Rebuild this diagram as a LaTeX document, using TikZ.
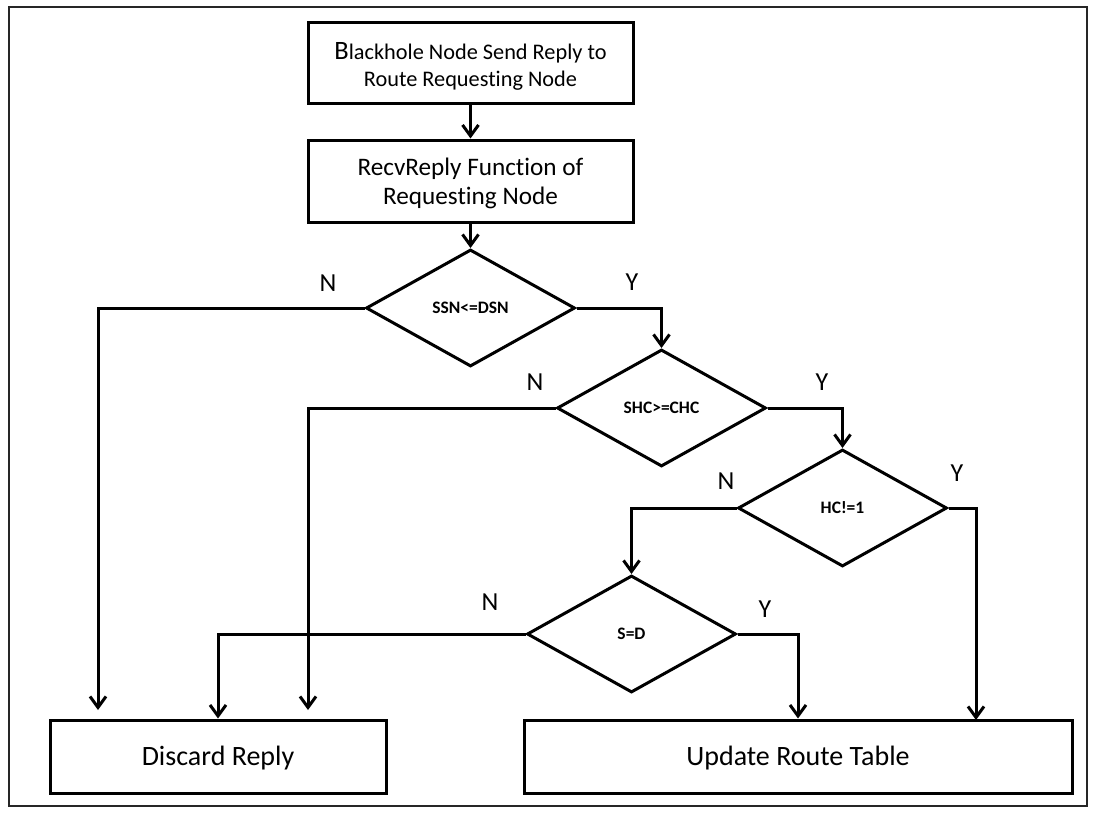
\documentclass[tikz,border=0pt]{standalone}
\usepackage{fontspec}
\setmainfont{Carlito}[Ligatures=NoCommon]
\usetikzlibrary{shapes.geometric,arrows.meta}
\begin{document}
\begin{tikzpicture}[x=1pt,y=-1pt,
  procbox/.style={draw,line width=3pt,rectangle,inner sep=0pt},
  boxtext/.style={align=center,inner sep=0pt},
  endbox/.style={draw,line width=3pt,rectangle,inner sep=0pt,minimum height=73pt},
  endtext/.style={inner sep=0pt,font=\fontsize{28}{33}\selectfont},
  decision/.style={draw,line width=3pt,diamond,minimum width=209pt,
    minimum height=117pt,inner sep=0pt,font=\fontsize{17.5}{20}\selectfont\bfseries},
  flow/.style={line width=3pt,-{Straight Barb[length=11pt,width=16pt]}},
  branch/.style={font=\fontsize{26}{30}\selectfont},
]
\useasboundingbox (0,0) rectangle (1096,816);
% outer frame
\draw[line width=1.5pt,black!85] (9,7) rectangle (1087,806);

% process boxes
\node[procbox,minimum width=325pt,minimum height=81pt] (start) at (470.5,63.5) {};
\node[boxtext,font=\fontsize{22.3}{27}\selectfont] (starttext) at ([yshift=-3pt]start.center)
  {{\fontsize{26.5}{27}\selectfont B}lackhole Node Send Reply to\\Route Requesting Node};
\node[procbox,minimum width=325pt,minimum height=82pt] (recv) at (470.5,181) {};
\node[boxtext,font=\fontsize{25.2}{29}\selectfont] (recvtext) at ([yshift=-2.5pt]recv.center)
  {RecvReply Function of\\Requesting Node};

% decisions
\node[decision] (d1) at (470.5,308) {SSN<=DSN};
\node[decision] (d2) at (661.5,408) {SHC>=CHC};
\node[decision] (d3) at (842.5,508) {HC!=1};
\node[decision] (d4) at (631.5,634) {S=D};

% outcomes
\node[endbox,minimum width=336pt] (discard) at (218,756.5) {};
\node[endtext] (discardtext) at ([yshift=-2pt]discard.center) {Discard Reply};
\node[endbox,minimum width=548pt] (update) at (798,756.5) {};
\node[endtext] (updatetext) at ([yshift=-2pt]update.center) {Update Route Table};

% free arrow ends
\coordinate (e1) at (98,710);
\coordinate (e2) at (308,710);
\coordinate (u2) at (976,720);

% connectors
\draw[flow] (start) -- (recv);
\draw[flow] (recv) -- (d1);
\draw[flow] (d1.west) -| (e1);
\draw[flow] (d1.east) -| (d2.north);
\draw[flow] (d2.west) -| (e2);
\draw[flow] (d2.east) -| (d3.north);
\draw[flow] (d3.west) -| (d4.north);
\draw[flow] (d3.east) -| (u2);
\draw[flow] (d4.west) -| (discard.north);
\draw[flow] (d4.east) -| (update.north);

% branch labels
\node[branch] (n1) at (328,283) {N};
\node[branch] (y1) at (632,282) {Y};
\node[branch] (n2) at (535,382) {N};
\node[branch] (y2) at (822,382) {Y};
\node[branch] (n3) at (726,481) {N};
\node[branch] (y3) at (957,473) {Y};
\node[branch] (n4) at (490,602) {N};
\node[branch] (y4) at (765,609) {Y};
\end{tikzpicture}
\end{document}
